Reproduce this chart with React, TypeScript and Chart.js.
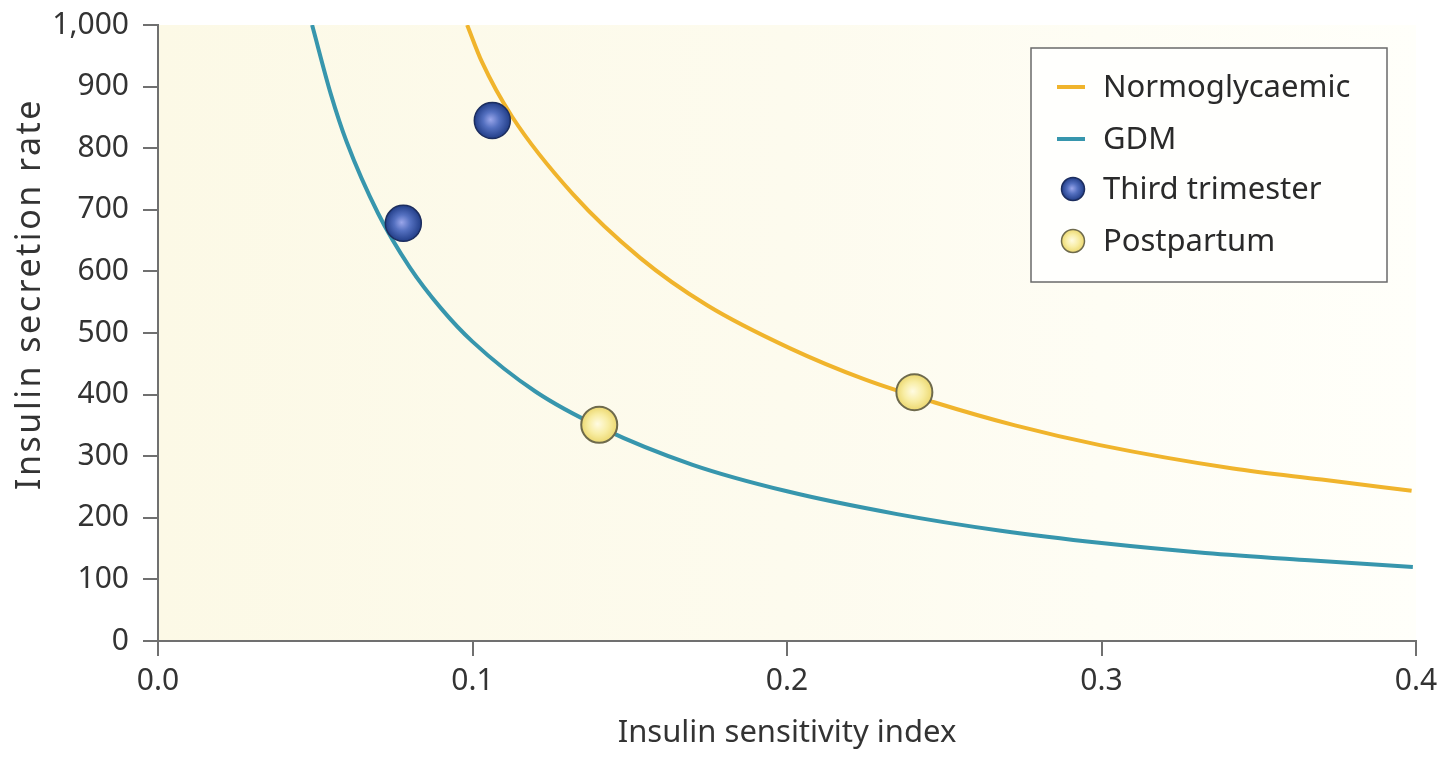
import React, { useEffect, useRef } from 'react';
import { Chart, registerables } from 'chart.js';

Chart.register(...registerables);

// ---- data ----
const normoX = [0.0983, 0.103, 0.1126, 0.132, 0.1533, 0.1746, 0.201, 0.2245, 0.2465, 0.2725, 0.2995, 0.3418, 0.37, 0.3986];
const normoY = [1000, 940, 851, 725, 622, 545, 475, 425, 388, 350, 318, 280, 262, 244];

const gdmX = [0.049, 0.055, 0.06, 0.07, 0.08, 0.09, 0.1, 0.12, 0.141, 0.17, 0.2, 0.235, 0.268, 0.3, 0.333, 0.366, 0.399];
const gdmY = [1000, 887, 810, 694, 607, 540, 486, 405, 346, 286, 243, 206, 179, 159, 143, 131, 120];

const thirdX = [0.078, 0.1063];
const thirdY = [678, 845];

const postX = [0.1403, 0.2405];
const postY = [351, 404];

const xTickLabels = ['0.0', '0.1', '0.2', '0.3', '0.4'];
const legendLabels = ['Normoglycaemic', 'GDM', 'Third trimester', 'Postpartum'];
const xTitle = 'Insulin sensitivity index';
const yTitle = 'Insulin secretion rate';

const NORMO_COLOR = '#f0b42c';
const GDM_COLOR = '#3796ad';
const FONT = '"Noto Sans", "Open Sans", sans-serif';

function ballGradient(ctx: CanvasRenderingContext2D, px: number, py: number, r: number, kind: 'third' | 'post') {
  const g = ctx.createRadialGradient(px - r * 0.1, py - r * 0.05, 0, px, py, r);
  if (kind === 'third') {
    g.addColorStop(0, '#9aa6ea');
    g.addColorStop(0.45, '#5470c0');
    g.addColorStop(1, '#223e88');
  } else {
    g.addColorStop(0, '#fffbe2');
    g.addColorStop(0.55, '#f8eda4');
    g.addColorStop(1, '#ecd870');
  }
  return g;
}

function pointBg(kind: 'third' | 'post') {
  return (c: any) => {
    const fallback = kind === 'third' ? '#3a58a8' : '#f6e890';
    if (c.type !== 'data' || !c.raw) return fallback;
    const chart = c.chart;
    const xs = chart.scales.x;
    const ys = chart.scales.y;
    if (!xs || !ys) return fallback;
    const px = xs.getPixelForValue(c.raw.x);
    const py = ys.getPixelForValue(c.raw.y);
    if (!Number.isFinite(px) || !Number.isFinite(py)) return fallback;
    return ballGradient(chart.ctx, px, py, 18, kind);
  };
}

const bgPlugin = {
  id: 'areaBg',
  beforeDraw(chart: any) {
    const { ctx, chartArea } = chart;
    const { left, right, top, bottom } = chartArea;
    const g = ctx.createLinearGradient(left, 0, right, 0);
    g.addColorStop(0, '#fcf9e6');
    g.addColorStop(0.5, '#fdfbee');
    g.addColorStop(1, '#fffffa');
    ctx.save();
    ctx.fillStyle = g;
    ctx.fillRect(left, top, right - left, bottom - top);
    ctx.restore();
  },
};

const overlayPlugin = {
  id: 'overlay',
  afterDraw(chart: any) {
    const { ctx } = chart;
    ctx.save();
    // y axis title
    ctx.fillStyle = '#333333';
    ctx.font = `34px ${FONT}`;
    try { (ctx as any).letterSpacing = '2.5px'; } catch (e) { /* ignore */ }
    ctx.textAlign = 'center';
    ctx.textBaseline = 'middle';
    ctx.translate(30, 294);
    ctx.rotate(-Math.PI / 2);
    ctx.fillText(yTitle, 0, 0);
    ctx.restore();

    // legend box
    ctx.save();
    const bx = 1031, by = 48, bw = 356, bh = 234;
    ctx.fillStyle = '#fffffd';
    ctx.fillRect(bx, by, bw, bh);
    ctx.strokeStyle = '#6a6a6a';
    ctx.lineWidth = 1.5;
    ctx.strokeRect(bx, by, bw, bh);
    const rows = [87, 139, 189, 241];
    ctx.font = `31px ${FONT}`;
    ctx.textAlign = 'left';
    ctx.textBaseline = 'middle';
    rows.forEach((ry, i) => {
      if (i < 2) {
        ctx.strokeStyle = i === 0 ? NORMO_COLOR : GDM_COLOR;
        ctx.lineWidth = 4;
        ctx.beginPath();
        ctx.moveTo(1057, ry);
        ctx.lineTo(1085, ry);
        ctx.stroke();
      } else {
        const kind = i === 2 ? 'third' : 'post';
        ctx.beginPath();
        ctx.arc(1073, ry, 11.5, 0, Math.PI * 2);
        ctx.fillStyle = ballGradient(ctx, 1073, ry, 11.5, kind);
        ctx.fill();
        ctx.lineWidth = 1.5;
        ctx.strokeStyle = kind === 'third' ? '#1c2d5e' : '#6e6a4c';
        ctx.stroke();
      }
      ctx.fillStyle = '#2a2a2a';
      ctx.fillText(legendLabels[i], 1103, ry + 1);
    });
    ctx.restore();
  },
};

export default function App() {
  const canvasRef = useRef<HTMLCanvasElement | null>(null);

  useEffect(() => {
    document.body.style.margin = '0';
    const canvas = canvasRef.current;
    if (!canvas) return;

    const axisColor = '#707070';
    const chart = new Chart(canvas, {
      type: 'scatter',
      data: {
        datasets: [
          {
            label: legendLabels[2],
            data: thirdX.map((x, i) => ({ x, y: thirdY[i] })),
            pointRadius: 18,
            pointHoverRadius: 18,
            pointBackgroundColor: pointBg('third'),
            pointBorderColor: '#1c2d5e',
            pointBorderWidth: 1.5,
            showLine: false,
            order: 0,
          },
          {
            label: legendLabels[3],
            data: postX.map((x, i) => ({ x, y: postY[i] })),
            pointRadius: 18,
            pointHoverRadius: 18,
            pointBackgroundColor: pointBg('post'),
            pointBorderColor: '#6e6a4c',
            pointBorderWidth: 2,
            showLine: false,
            order: 0,
          },
          {
            label: legendLabels[0],
            data: normoX.map((x, i) => ({ x, y: normoY[i] })),
            showLine: true,
            borderColor: NORMO_COLOR,
            borderWidth: 4,
            pointRadius: 0,
            cubicInterpolationMode: 'monotone',
            order: 1,
          },
          {
            label: legendLabels[1],
            data: gdmX.map((x, i) => ({ x, y: gdmY[i] })),
            showLine: true,
            borderColor: GDM_COLOR,
            borderWidth: 4,
            pointRadius: 0,
            cubicInterpolationMode: 'monotone',
            order: 1,
          },
        ],
      },
      options: {
        responsive: false,
        animation: false,
        events: [],
        layout: { padding: { left: 0, right: 29, top: 25, bottom: 0 } },
        plugins: {
          legend: { display: false },
          tooltip: { enabled: false },
        },
        scales: {
          x: {
            type: 'linear',
            min: 0,
            max: 0.4,
            afterFit: (s: any) => {
              s.height = 116;
              s.paddingLeft = 0;
              s.paddingRight = 0;
            },
            afterBuildTicks: (s: any) => {
              s.ticks = xTickLabels.map((t) => ({ value: parseFloat(t) }));
            },
            ticks: {
              callback: (_v: any, i: number) => xTickLabels[i],
              color: '#333333',
              font: { family: FONT, size: 30 },
              padding: 7,
              maxRotation: 0,
            },
            grid: {
              drawOnChartArea: false,
              drawTicks: true,
              tickLength: 15,
              color: axisColor,
              lineWidth: 2,
            },
            border: { display: true, color: axisColor, width: 2 },
            title: {
              display: true,
              text: xTitle,
              color: '#333333',
              font: { family: FONT, size: 31 },
              padding: { top: 0, bottom: 5 },
            },
          },
          y: {
            type: 'linear',
            min: 0,
            max: 1000,
            afterFit: (s: any) => {
              s.width = 158;
              s.paddingTop = 0;
              s.paddingBottom = 0;
            },
            ticks: {
              stepSize: 100,
              color: '#333333',
              font: { family: FONT, size: 30 },
              padding: 14,
            },
            grid: {
              drawOnChartArea: false,
              drawTicks: true,
              tickLength: 15,
              color: axisColor,
              lineWidth: 2,
            },
            border: { display: true, color: axisColor, width: 2 },
            title: { display: false },
          },
        },
      },
      plugins: [bgPlugin, overlayPlugin],
    } as any);

    return () => chart.destroy();
  }, []);

  return (
    <div style={{ width: 1445, height: 757, position: 'relative', background: '#ffffff' }}>
      <canvas ref={canvasRef} width={1445} height={757} style={{ display: 'block' }} />
    </div>
  );
}
